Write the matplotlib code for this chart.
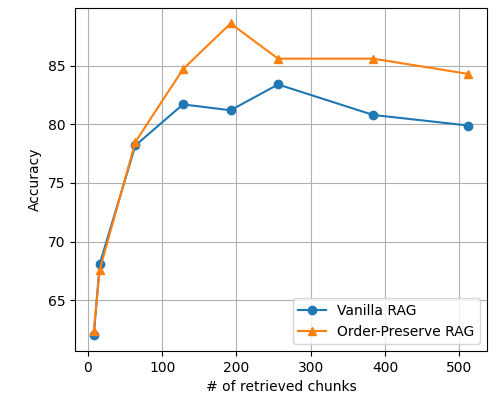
import matplotlib
matplotlib.use("Agg")
import matplotlib.pyplot as plt

chunks = [8, 16, 64, 128, 192, 256, 384, 512]
vanilla_rag = [62.0, 68.1, 78.2, 81.7, 81.2, 83.4, 80.8, 79.9]
order_preserve_rag = [62.4, 67.6, 78.5, 84.7, 88.6, 85.6, 85.6, 84.3]


def main() -> None:
    fig, ax = plt.subplots(figsize=(4.97, 3.94), dpi=100)
    ax.plot(chunks, vanilla_rag, marker="o", label="Vanilla RAG")
    ax.plot(chunks, order_preserve_rag, marker="^", label="Order-Preserve RAG")
    ax.set_xlabel("# of retrieved chunks")
    ax.set_ylabel("Accuracy")
    ax.grid(True)
    ax.legend(loc="lower right")
    fig.subplots_adjust(left=0.151, right=0.98, top=0.98, bottom=0.109)
    fig.savefig("out.png", dpi=100)
    plt.close(fig)


if __name__ == "__main__":
    main()
